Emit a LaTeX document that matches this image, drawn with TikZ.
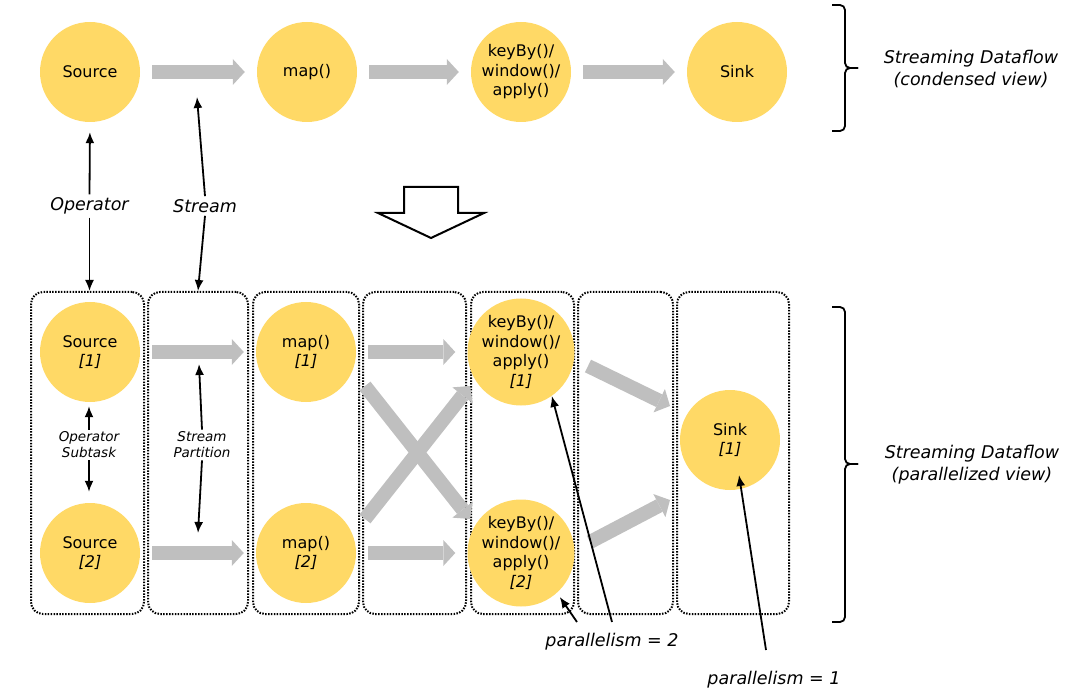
\documentclass[tikz,border=0pt]{standalone}
\usepackage{fontspec}
\setmainfont{DejaVu Sans}
\usetikzlibrary{arrows.meta,calc}
\definecolor{opyellow}{RGB}{255,217,102}
\definecolor{flowgray}{RGB}{191,191,191}
\begin{document}
\begin{tikzpicture}[x=1pt,y=-1pt,
  op/.style={circle,fill=opyellow,minimum size=100pt,inner sep=0pt,align=center,font=\fontsize{16}{19.5}\selectfont},
  flow/.style={line width=14pt,color=flowgray,-{Triangle[length=12pt,width=26pt,line width=0pt]}},
  gap/.style={shorten <=12pt,shorten >=12pt},
  pbox/.style={draw,rounded corners=12pt,line width=2pt,dash pattern=on 1.5pt off 1.4pt,minimum height=322pt,inner sep=0pt},
  lab/.style={font=\fontsize{17.5}{22}\selectfont\itshape,align=center,inner sep=3pt},
  slab/.style={font=\fontsize{13.5}{16}\selectfont\itshape,align=center,inner sep=2pt},
  ptr/.style={line width=1.8pt,-{Latex[length=11pt,width=9pt]}},
  brace/.style={line width=1.8pt,rounded corners=5pt},
  hollow/.style={draw,line width=2pt,fill=white,line join=miter}
]
\useasboundingbox (0,0) rectangle (1086,692);

% ---- condensed view ----
\node[op] (src) at (90,72) {Source};
\node[op] (map) at (307,72) {map()};
\node[op] (key) at (521,72) {keyBy()/\\window()/\\apply()};
\node[op] (snk) at (737,72) {Sink};
\draw[flow,gap] (src) -- (map);
\draw[flow,gap] (map) -- (key);
\draw[flow,gap] (key) -- (snk);

\draw[brace] (832,5) -- (845,5) -- (845,68) -- (858,68);
\draw[brace] (832,131) -- (845,131) -- (845,68) -- (858,68);
\node[lab] (cv) at (971,69) {Streaming Dataflow\\(condensed view)};

% ---- hollow arrow ----
\draw[hollow] (404,187) -- (458,187) -- (458,213) -- (484,213) -- (431,238) -- (378,213) -- (404,213) -- cycle;

% ---- parallel boxes ----
\node[pbox,minimum width=113pt] (b1) at (87.5,453) {};
\node[pbox,minimum width=100pt] (b2) at (198,453) {};
\node[pbox,minimum width=106pt] (b3) at (306,453) {};
\node[pbox,minimum width=103pt] (b4) at (414.5,453) {};
\node[pbox,minimum width=103pt] (b5) at (522.5,453) {};
\node[pbox,minimum width=95pt] (b6) at (625.5,453) {};
\node[pbox,minimum width=112pt] (b7) at (733,453) {};

% ---- parallel operators ----
\node[op] (s1) at (90,352) {Source\\\textit{[1]}};
\node[op] (s2) at (90,553) {Source\\\textit{[2]}};
\node[op] (m1) at (306,352) {map()\\\textit{[1]}};
\node[op] (m2) at (306,553) {map()\\\textit{[2]}};
\node[op] (k1) at (521,352) {keyBy()/\\window()/\\apply()\\\textit{[1]}};
\node[op] (k2) at (521,553) {keyBy()/\\window()/\\apply()\\\textit{[2]}};
\node[op] (sk) at (730,440) {Sink\\\textit{[1]}};

\draw[flow,gap] (s1) -- (m1);
\draw[flow,gap] (s2) -- (m2);
\draw[flow,gap] (m1) -- (k1);
\draw[flow,gap] (m2) -- (k2);
\coordinate (x1s) at (365,386);
\coordinate (x1e) at (470,519);
\coordinate (x2s) at (365,519);
\coordinate (x2e) at (470,386);
\draw[flow] (x1s) -- (x1e);
\draw[flow] (x2s) -- (x2e);
\coordinate (d1s) at (588,366);
\coordinate (d1e) at (670,406);
\coordinate (d2s) at (590,542);
\coordinate (d2e) at (670,500);
\draw[flow] (d1s) -- (d1e);
\draw[flow] (d2s) -- (d2e);

\draw[brace] (832,307) -- (845,307) -- (845,464) -- (858,464);
\draw[brace] (832,622) -- (845,622) -- (845,464) -- (858,464);
\node[lab] (pv) at (972,465) {Streaming Dataflow\\(parallelized view)};

% ---- labels with pointers ----
\node[lab] (oplab) at (89.5,206) {Operator};
\node[lab] (stlab) at (205,206) {Stream};
\draw[ptr,shorten >=10pt] (oplab.north) -- (src.south);
\draw[ptr] (oplab.south) -- (oplab.south |- b1.north);
\coordinate (stm) at (197,97);
\draw[ptr] (stlab.north) -- (stm);
\draw[ptr] (stlab.south) -- (b2.north);

\node[slab] (osub) at (89,445) {Operator\\Subtask};
\draw[ptr,shorten >=4pt] (osub.north) -- (osub.north |- s1.south);
\draw[ptr,shorten >=11pt] (osub.south) -- (osub.south |- s2.north);
\node[slab] (spar) at (202,445) {Stream\\Partition};
\coordinate (sp1) at (199,364);
\coordinate (sp2) at (198,533);
\draw[ptr] (spar.north) -- (sp1);
\draw[ptr] (spar.south) -- (sp2);

\node[lab] (p2) at (612,642) {parallelism = 2};
\node[lab] (p1) at (774,680) {parallelism = 1};
\coordinate (p2a) at (577,622);
\coordinate (p2b) at (612,622);
\coordinate (p1a) at (766,650);
\coordinate (sktip) at (739,475);
\draw[ptr,shorten >=5pt] (p2a) -- (k2.-48);
\draw[ptr] (p2b) -- (k1.-55);
\draw[ptr] (p1a) -- (sktip);
\end{tikzpicture}
\end{document}
